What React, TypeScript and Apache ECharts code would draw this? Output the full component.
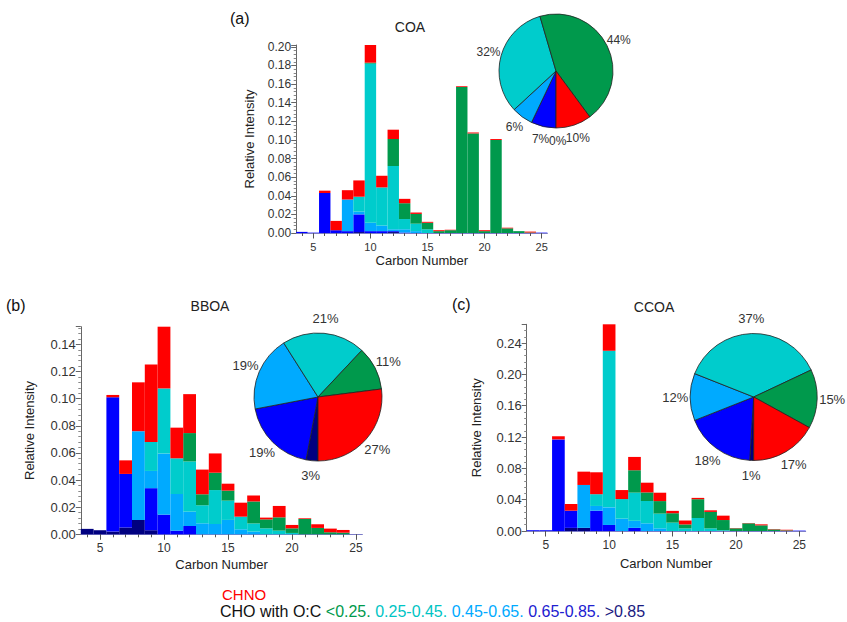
import React, { useEffect, useRef } from 'react';
import * as echarts from 'echarts';

const carbonNumbers = ['4','5','6','7','8','9','10','11','12','13','14','15','16','17','18','19','20','21','22','23','24','25'];

const layerNames = ['>0.85', '0.65-0.85', '0.45-0.65', '0.25-0.45', '<0.25', 'CHNO'];
const layerColors = ['#000080', '#0000FF', '#00AAFF', '#00CCCC', '#00994C', '#FF0000'];

// COA
const coaNavy = [0,0,0,0,0,0.001,0,0,0.001,0,0,0,0,0,0,0,0,0,0,0,0,0];
const coaBlue = [0.0012,0.0004,0.043,0.003,0.002,0.019,0.002,0.002,0.001,0.0005,0,0,0,0,0,0,0,0,0,0,0,0.0004];
const coaLightBlue = [0,0,0,0,0.034,0.003,0.009,0.006,0.002,0.0035,0.002,0,0,0,0,0,0,0,0,0,0,0];
const coaCyan = [0,0,0,0,0,0.016,0.171,0.041,0.068,0.011,0.008,0.004,0,0,0,0,0,0,0,0,0,0];
const coaGreen = [0,0,0,0,0,0,0.001,0,0.029,0.017,0.0105,0.007,0.002,0.003,0.157,0.107,0.002,0.1,0.005,0.002,0.0005,0];
const coaRed = [0,0,0.0025,0.01,0.01,0.0175,0.019,0.0125,0.01,0.0047,0.0015,0.001,0.001,0.0005,0.0008,0.001,0.001,0.001,0.0007,0,0.001,0];
const coaPie = [0, 7, 6, 32, 44, 10];

// BBOA
const bboaNavy = [0.004,0.003,0.002,0.005,0.0106,0.003,0,0,0,0,0,0,0,0,0,0,0,0,0,0,0,0];
const bboaBlue = [0,0,0.099,0.0395,0,0.031,0.0145,0.0027,0.0061,0,0,0,0,0,0,0,0,0,0,0,0,0];
const bboaLightBlue = [0,0,0,0,0.0654,0.0127,0.045,0.027,0.0106,0.0081,0.0076,0.0106,0.0037,0.002,0,0,0,0,0,0,0,0];
const bboaCyan = [0,0,0,0,0,0.0214,0.048,0.0263,0.037,0.0133,0.025,0.0142,0.0093,0.006,0.0044,0.0027,0.001,0,0,0,0,0];
const bboaGreen = [0,0,0,0,0,0,0,0,0.0209,0.0081,0.0128,0.0074,0,0.0162,0.0066,0.0098,0.0034,0.0113,0.0047,0.0015,0.0012,0];
const bboaRed = [0,0,0.0017,0.01,0.036,0.057,0.0455,0.0226,0.0287,0.0182,0.0142,0.0051,0.0103,0.0044,0.0013,0.0084,0.0025,0.0005,0.0027,0.0027,0.002,0];
const bboaPie = [3, 19, 19, 21, 11, 27];

// CCOA
const ccoaNavy = [0,0,0,0.004,0.004,0,0,0,0,0,0,0,0,0,0,0,0,0,0,0,0,0];
const ccoaBlue = [0.001,0.001,0.117,0.022,0,0.026,0.0077,0,0.004,0,0,0,0,0,0,0,0,0,0,0,0,0.0005];
const ccoaLightBlue = [0,0,0,0,0.0548,0.006,0.0225,0.0158,0.009,0.0098,0.0034,0,0,0,0,0,0,0,0,0,0,0];
const ccoaCyan = [0,0,0,0,0,0.015,0.2,0.025,0.036,0.0285,0.0188,0.0107,0.0034,0.0166,0.0034,0.001,0,0,0,0,0,0];
const ccoaGreen = [0,0,0,0,0,0,0,0,0.0286,0.011,0.016,0.012,0.005,0.024,0.021,0.013,0.0034,0.0098,0.0072,0.002,0.0008,0];
const ccoaRed = [0,0,0.004,0.0085,0.017,0.028,0.034,0.0115,0.017,0.0124,0.0107,0.003,0.005,0.0017,0.002,0.0056,0.0004,0.0004,0.0013,0.0005,0.0008,0];
const ccoaPie = [1, 18, 12, 37, 15, 17];

const yTickInterval = [0.02, 0.02, 0.04];
const yMaxValues = [0.202, 0.153, 0.264];
const panelTitles = ['COA', 'BBOA', 'CCOA'];
const panelLetters = ['(a)', '(b)', '(c)'];

const panels = [
  [coaNavy, coaBlue, coaLightBlue, coaCyan, coaGreen, coaRed],
  [bboaNavy, bboaBlue, bboaLightBlue, bboaCyan, bboaGreen, bboaRed],
  [ccoaNavy, ccoaBlue, ccoaLightBlue, ccoaCyan, ccoaGreen, ccoaRed],
];
const pies = [coaPie, bboaPie, ccoaPie];

// layout (px)
const grids = [
  { left: 296.2, top: 45, width: 251.2, height: 188 },
  { left: 80.8, top: 326.7, width: 281.6, height: 207.6 },
  { left: 526.7, top: 324.3, width: 279, height: 206.7 },
];
const pieGeo = [
  { c: [556, 71], r: 57, d: 70, fs: 12 },
  { c: [318, 397], r: 64, d: 79, fs: 13 },
  { c: [753.7, 397], r: 63.5, d: 78.5, fs: 13 },
];
const yNameGap = [40, 45, 44];
const xNameGap = [21, 24, 26];
const tickFont = [11, 12, 12];
const yTickFont = [12, 13, 13];
const FONT = 'Liberation Sans, Arial, sans-serif';

export default function App() {
  const ref = useRef<HTMLDivElement>(null);
  useEffect(() => {
    if (!ref.current) return;
    const chart = echarts.init(ref.current, undefined, { renderer: 'svg' });
    const xAxis: any[] = [];
    const yAxis: any[] = [];
    const series: any[] = [];
    const isMajor = (i: number, v: string) => Number(v) % 5 === 0;
    panels.forEach((layers, p) => {
      xAxis.push({
        type: 'category', gridIndex: p, data: carbonNumbers, boundaryGap: true,
        axisLine: { show: true, lineStyle: { color: '#7c7cc8', width: 1 } },
        axisTick: { show: true, alignWithLabel: true, interval: 0, length: 3, lineStyle: { color: '#555' } },
        axisLabel: { interval: isMajor, fontSize: tickFont[p], color: '#333', margin: 8, fontFamily: FONT },
        splitLine: { show: false },
        name: 'Carbon Number', nameLocation: 'middle', nameGap: xNameGap[p],
        nameTextStyle: { fontSize: 13, color: '#222', fontFamily: FONT },
      });
      const iv = yTickInterval[p];
      yAxis.push({
        type: 'value', gridIndex: p, min: 0, max: yMaxValues[p], interval: iv,
        axisLine: { show: true, lineStyle: { color: '#666' } },
        axisTick: { show: true, length: 5, lineStyle: { color: '#666' } },
        minorTick: { show: true, splitNumber: 5, length: 2.5, lineStyle: { color: '#888' } },
        splitLine: { show: false }, minorSplitLine: { show: false },
        axisLabel: {
          fontSize: yTickFont[p], color: '#333', margin: 5, fontFamily: FONT,
          formatter: (v: number) => Math.abs(v / iv - Math.round(v / iv)) < 1e-6 ? v.toFixed(2) : '',
        },
        name: 'Relative Intensity', nameLocation: 'middle', nameGap: yNameGap[p], nameRotate: 90,
        nameTextStyle: { fontSize: 13, color: '#222', fontFamily: FONT },
      });
      layers.forEach((vals, k) => {
        series.push({
          type: 'bar', name: layerNames[k], xAxisIndex: p, yAxisIndex: p, stack: 'panel' + p,
          data: vals, barCategoryGap: '0%', barGap: '0%',
          itemStyle: { color: layerColors[k] }, silent: true,
        });
      });
      // pie, labels centred along each slice's mid-angle
      const vals = pies[p];
      const total = vals.reduce((a, b) => a + b, 0);
      const mids: number[] = [];
      let acc = 0;
      vals.forEach(v => { mids.push(180 + (acc + v / 2) / total * 360); acc += v; });
      const geo = pieGeo[p];
      series.push({
        type: 'pie', center: geo.c, radius: geo.r, startAngle: 270, clockwise: true,
        avoidLabelOverlap: false, silent: true,
        data: vals.map((v, k) => ({ name: layerNames[k], value: v, itemStyle: { color: layerColors[k] } })),
        itemStyle: { borderColor: '#222', borderWidth: 0.8 },
        label: { show: true, position: 'outside', formatter: '{c}%', fontSize: geo.fs, color: '#333', fontFamily: FONT },
        labelLine: { show: false, length: 6, length2: 0 },
        labelLayout: (params: any) => {
          const k = params.dataIndex;
          const a = mids[k] * Math.PI / 180;
          const x = geo.c[0] + geo.d * Math.sin(a);
          const y = geo.c[1] - geo.d * Math.cos(a);
          if (vals[k] === 0) return { x: x - 7, y, align: 'left', verticalAlign: 'middle' };
          return { x, y, align: 'center', verticalAlign: 'middle' };
        },
      });
    });
    // longer major ticks at 5, 10, 15, 20, 25
    panels.forEach((_, p) => {
      xAxis.push({
        type: 'category', gridIndex: p, data: carbonNumbers, boundaryGap: true, position: 'bottom',
        axisLine: { show: false },
        axisTick: { show: true, alignWithLabel: true, interval: isMajor, length: 5.5, lineStyle: { color: '#555' } },
        axisLabel: { show: false }, splitLine: { show: false },
      });
    });

    const titlePos = [[410, 27], [210, 306], [654, 307]];
    const letterPos = [[230, 18], [6, 305], [452, 304]];
    const graphic: any[] = [];
    for (let p = 0; p < 3; p++) {
      graphic.push({ type: 'text', x: titlePos[p][0], y: titlePos[p][1], style: { text: panelTitles[p], fontSize: 14, fill: '#222', align: 'center', verticalAlign: 'middle', fontFamily: FONT } });
      graphic.push({ type: 'text', x: letterPos[p][0], y: letterPos[p][1], style: { text: panelLetters[p], fontSize: 16, fill: '#111', align: 'left', verticalAlign: 'middle', fontFamily: FONT } });
    }
    graphic.push({ type: 'text', x: 222, y: 594, style: { text: 'CHNO', fontSize: 15, fill: '#FF0000', verticalAlign: 'middle', fontFamily: FONT } });
    graphic.push({
      type: 'text', x: 220, y: 611,
      style: {
        text: '{k|CHO with O:C }{g|<0.25. }{c|0.25-0.45. }{l|0.45-0.65. }{b|0.65-0.85. }{n|>0.85}',
        verticalAlign: 'middle', fontSize: 16, fontFamily: FONT,
        rich: {
          k: { fill: '#111', fontSize: 16, fontFamily: FONT }, g: { fill: '#00994C', fontSize: 16, fontFamily: FONT },
          c: { fill: '#00C4C4', fontSize: 16, fontFamily: FONT }, l: { fill: '#00AAFF', fontSize: 16, fontFamily: FONT },
          b: { fill: '#2020D0', fontSize: 16, fontFamily: FONT }, n: { fill: '#1A1A80', fontSize: 16, fontFamily: FONT },
        },
      },
    });

    chart.setOption({
      animation: false,
      backgroundColor: '#ffffff',
      grid: grids.map(g => ({ ...g, containLabel: false, outerBoundsMode: 'none' })),
      xAxis, yAxis, series, graphic,
    });
    return () => chart.dispose();
  }, []);
  return <div ref={ref} style={{ position: 'absolute', left: 0, top: 0, width: 847, height: 622 }} />;
}
